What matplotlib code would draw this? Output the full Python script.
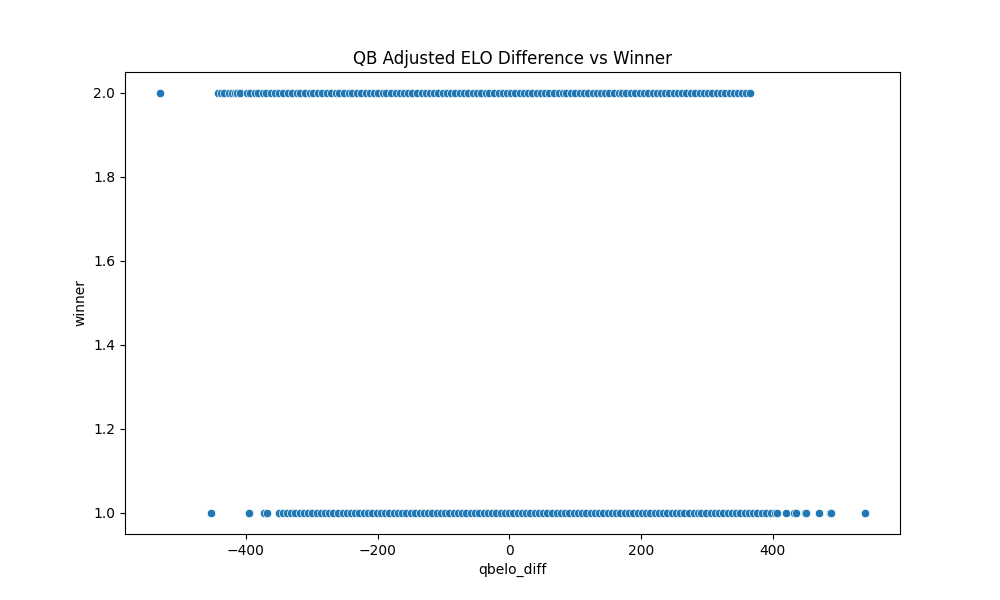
import matplotlib

matplotlib.use("Agg")
import matplotlib.pyplot as plt
import pandas as pd
import seaborn as sns

# qbelo_diff values, grouped by winner
diff_winner2 = [
    -530, -443, -437, -433, -426, -421, -417, -413, -409,
    -398, -393, -386, -381, -374, -369, -362, -355, -349, -343, -336, -330,
    -322, -317, -310, -303, -298, -290, -284, -277, -271, -263, -258, -251,
    -244, -238, -231, -225, -218, -212, -205, -199, -192, -187, -180, -172,
    -166, -160, -153, -147, -140, -133, -127, -121, -114, -108, -101, -95,
    -88, -82, -75, -69, -62, -55, -49, -43, -36, -30, -23, -16, -10, -4,
    3, 9, 16, 22, 29, 35, 42, 48, 55, 61, 68, 75, 81, 87, 94, 100, 107,
    113, 120, 127, 133, 139, 146, 152, 159, 166, 172, 178, 185, 191, 198,
    204, 211, 218, 224, 230, 237, 243, 250, 257, 263, 269, 276, 282, 289,
    296, 302, 308, 315, 321, 328, 335, 341, 347, 354, 360, 365,
]
diff_winner1 = [
    -453, -395, -372, -368, -350, -344, -338, -331, -325, -318, -311, -306,
    -299, -292, -286, -279, -273, -267, -260, -253, -247, -240, -234, -228,
    -221, -214, -208, -201, -195, -189, -182, -175, -169, -163, -156, -149,
    -143, -136, -130, -124, -117, -110, -104, -98, -91, -84, -78, -72, -65,
    -58, -52, -46, -39, -32, -26, -20, -13, -6, 0, 6, 13, 20, 26, 32, 39,
    46, 52, 58, 65, 72, 78, 84, 91, 98, 104, 110, 117, 124, 130, 136, 143,
    150, 156, 162, 169, 176, 182, 188, 195, 202, 208, 214, 221, 228, 234,
    240, 247, 254, 260, 266, 273, 280, 286, 292, 299, 306, 312, 318, 325,
    332, 338, 344, 351, 358, 364, 370, 377, 384, 390, 397, 403, 406, 421,
    433, 436, 449, 451, 471, 487, 489, 540,
]

df = pd.DataFrame({
    "qbelo_diff": diff_winner2 + diff_winner1,
    "winner": [2.0] * len(diff_winner2) + [1.0] * len(diff_winner1),
})

fig, ax = plt.subplots(figsize=(10, 6), dpi=100)
sns.scatterplot(data=df, x="qbelo_diff", y="winner", ax=ax)
ax.set_title("QB Adjusted ELO Difference vs Winner")

fig.savefig("out.png", dpi=100)
